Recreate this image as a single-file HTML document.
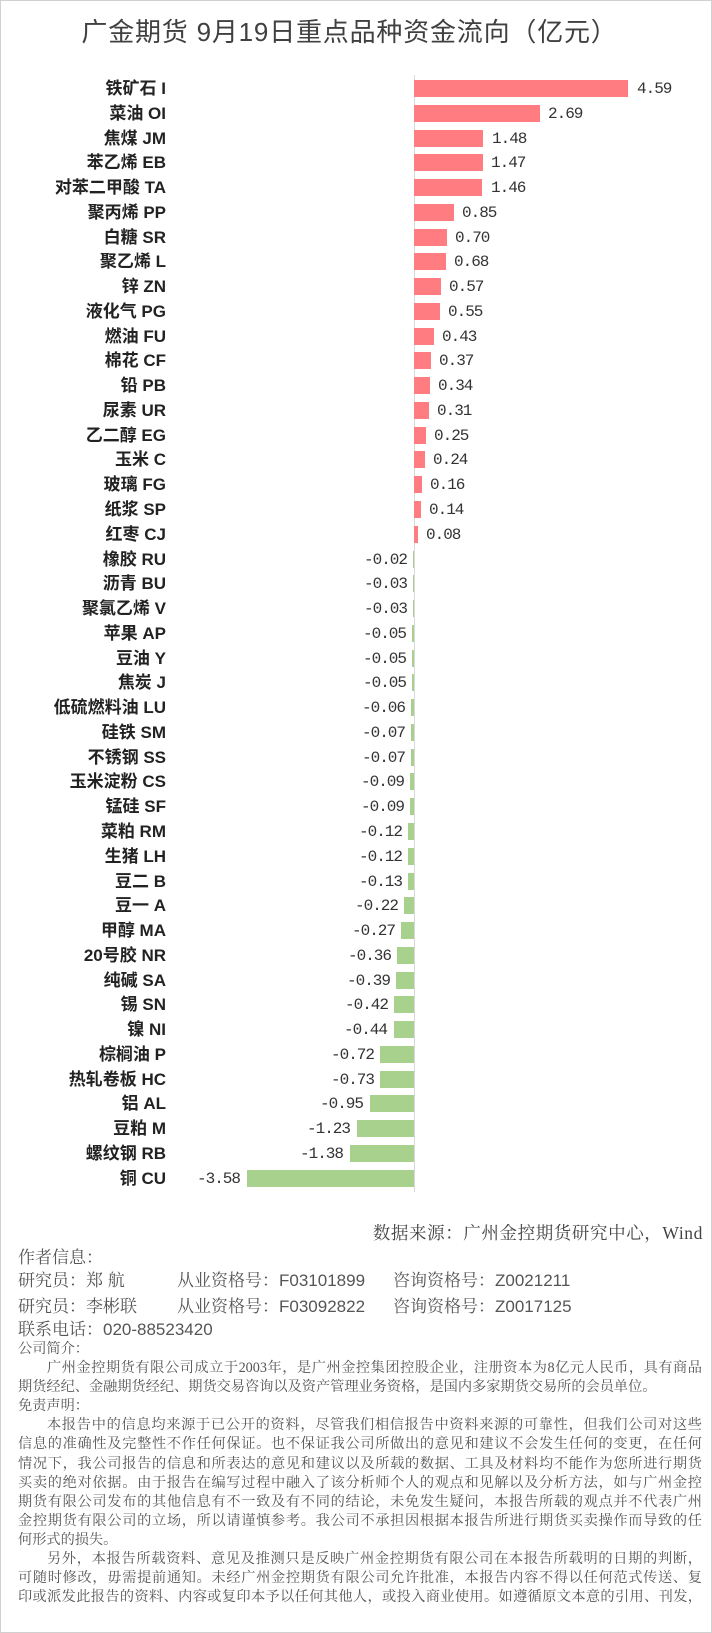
<!DOCTYPE html>
<html><head><meta charset="utf-8"><style>
*{margin:0;padding:0}
body{width:712px;height:1633px;background:#fff;position:relative;overflow:hidden;font-family:"Liberation Sans","Noto Sans CJK SC",sans-serif;color:#333}
.frame{position:absolute;left:0;top:0;width:710px;height:1631px;border:1px solid #d0d0d0}
.title{position:absolute;left:77px;width:545px;top:12px;text-align:center;font-size:26px;color:#404040;white-space:nowrap;letter-spacing:0.8px}
.axis{position:absolute;left:414px;top:75px;width:1px;height:1117px;background:#d9d9d9}
.rows{position:absolute;left:0;top:80px;width:712px}
.r{position:relative;height:24.77px;width:712px}
.l{position:absolute;right:546px;top:-3px;font-size:17px;font-weight:bold;color:#222;white-space:nowrap;line-height:24px}
.p,.n{position:absolute;top:0;height:17px}
.p{left:414px;background:#ff7c80}
.n{right:298px;background:#a9d18e}
.v{position:absolute;top:-3px;font-size:16px;line-height:24px;color:#333;white-space:nowrap;font-style:normal;font-family:"Liberation Mono","Noto Sans CJK SC",monospace;letter-spacing:-1px}
.src{position:absolute;right:9px;top:1220px;font-size:17.5px;color:#444;white-space:nowrap;font-family:"Liberation Serif","Noto Serif CJK SC",serif;letter-spacing:0.6px}
.info{position:absolute;font-size:17px;color:#555;font-family:"Liberation Sans","Noto Serif CJK SC",serif;white-space:pre}
.txt{position:absolute;left:18px;top:1340px;width:684px;font-size:14.2px;line-height:19.1px;color:#555;font-family:"Liberation Serif","Noto Serif CJK SC",serif}
.txt div{white-space:nowrap;height:19.1px}
.j{text-align:justify;text-align-last:justify;white-space:normal!important}
.ind{padding-left:29px}
</style></head><body>
<div class="frame"></div>
<div class="title">广金期货 9月19日重点品种资金流向（亿元）</div>
<div class="axis"></div>
<div class="rows">
<div class="r"><span class="l">铁矿石 I</span><b class="p" style="width:214.4px"></b><i class="v" style="left:637px">4.59</i></div>
<div class="r"><span class="l">菜油 OI</span><b class="p" style="width:125.6px"></b><i class="v" style="left:548px">2.69</i></div>
<div class="r"><span class="l">焦煤 JM</span><b class="p" style="width:69.1px"></b><i class="v" style="left:492px">1.48</i></div>
<div class="r"><span class="l">苯乙烯 EB</span><b class="p" style="width:68.6px"></b><i class="v" style="left:491px">1.47</i></div>
<div class="r"><span class="l">对苯二甲酸 TA</span><b class="p" style="width:68.2px"></b><i class="v" style="left:491px">1.46</i></div>
<div class="r"><span class="l">聚丙烯 PP</span><b class="p" style="width:39.7px"></b><i class="v" style="left:462px">0.85</i></div>
<div class="r"><span class="l">白糖 SR</span><b class="p" style="width:32.7px"></b><i class="v" style="left:455px">0.70</i></div>
<div class="r"><span class="l">聚乙烯 L</span><b class="p" style="width:31.8px"></b><i class="v" style="left:454px">0.68</i></div>
<div class="r"><span class="l">锌 ZN</span><b class="p" style="width:26.6px"></b><i class="v" style="left:449px">0.57</i></div>
<div class="r"><span class="l">液化气 PG</span><b class="p" style="width:25.7px"></b><i class="v" style="left:448px">0.55</i></div>
<div class="r"><span class="l">燃油 FU</span><b class="p" style="width:20.1px"></b><i class="v" style="left:442px">0.43</i></div>
<div class="r"><span class="l">棉花 CF</span><b class="p" style="width:17.3px"></b><i class="v" style="left:439px">0.37</i></div>
<div class="r"><span class="l">铅 PB</span><b class="p" style="width:15.9px"></b><i class="v" style="left:438px">0.34</i></div>
<div class="r"><span class="l">尿素 UR</span><b class="p" style="width:14.5px"></b><i class="v" style="left:437px">0.31</i></div>
<div class="r"><span class="l">乙二醇 EG</span><b class="p" style="width:11.7px"></b><i class="v" style="left:434px">0.25</i></div>
<div class="r"><span class="l">玉米 C</span><b class="p" style="width:11.2px"></b><i class="v" style="left:433px">0.24</i></div>
<div class="r"><span class="l">玻璃 FG</span><b class="p" style="width:7.5px"></b><i class="v" style="left:430px">0.16</i></div>
<div class="r"><span class="l">纸浆 SP</span><b class="p" style="width:6.5px"></b><i class="v" style="left:429px">0.14</i></div>
<div class="r"><span class="l">红枣 CJ</span><b class="p" style="width:3.7px"></b><i class="v" style="left:426px">0.08</i></div>
<div class="r"><span class="l">橡胶 RU</span><b class="n" style="width:0.9px"></b><i class="v" style="right:305px">-0.02</i></div>
<div class="r"><span class="l">沥青 BU</span><b class="n" style="width:1.4px"></b><i class="v" style="right:305px">-0.03</i></div>
<div class="r"><span class="l">聚氯乙烯 V</span><b class="n" style="width:1.4px"></b><i class="v" style="right:305px">-0.03</i></div>
<div class="r"><span class="l">苹果 AP</span><b class="n" style="width:2.3px"></b><i class="v" style="right:306px">-0.05</i></div>
<div class="r"><span class="l">豆油 Y</span><b class="n" style="width:2.3px"></b><i class="v" style="right:306px">-0.05</i></div>
<div class="r"><span class="l">焦炭 J</span><b class="n" style="width:2.3px"></b><i class="v" style="right:306px">-0.05</i></div>
<div class="r"><span class="l">低硫燃料油 LU</span><b class="n" style="width:2.8px"></b><i class="v" style="right:307px">-0.06</i></div>
<div class="r"><span class="l">硅铁 SM</span><b class="n" style="width:3.3px"></b><i class="v" style="right:307px">-0.07</i></div>
<div class="r"><span class="l">不锈钢 SS</span><b class="n" style="width:3.3px"></b><i class="v" style="right:307px">-0.07</i></div>
<div class="r"><span class="l">玉米淀粉 CS</span><b class="n" style="width:4.2px"></b><i class="v" style="right:308px">-0.09</i></div>
<div class="r"><span class="l">锰硅 SF</span><b class="n" style="width:4.2px"></b><i class="v" style="right:308px">-0.09</i></div>
<div class="r"><span class="l">菜粕 RM</span><b class="n" style="width:5.6px"></b><i class="v" style="right:310px">-0.12</i></div>
<div class="r"><span class="l">生猪 LH</span><b class="n" style="width:5.6px"></b><i class="v" style="right:310px">-0.12</i></div>
<div class="r"><span class="l">豆二 B</span><b class="n" style="width:6.1px"></b><i class="v" style="right:310px">-0.13</i></div>
<div class="r"><span class="l">豆一 A</span><b class="n" style="width:10.3px"></b><i class="v" style="right:314px">-0.22</i></div>
<div class="r"><span class="l">甲醇 MA</span><b class="n" style="width:12.6px"></b><i class="v" style="right:317px">-0.27</i></div>
<div class="r"><span class="l">20号胶 NR</span><b class="n" style="width:16.8px"></b><i class="v" style="right:321px">-0.36</i></div>
<div class="r"><span class="l">纯碱 SA</span><b class="n" style="width:18.2px"></b><i class="v" style="right:322px">-0.39</i></div>
<div class="r"><span class="l">锡 SN</span><b class="n" style="width:19.6px"></b><i class="v" style="right:324px">-0.42</i></div>
<div class="r"><span class="l">镍 NI</span><b class="n" style="width:20.5px"></b><i class="v" style="right:325px">-0.44</i></div>
<div class="r"><span class="l">棕榈油 P</span><b class="n" style="width:33.6px"></b><i class="v" style="right:338px">-0.72</i></div>
<div class="r"><span class="l">热轧卷板 HC</span><b class="n" style="width:34.1px"></b><i class="v" style="right:338px">-0.73</i></div>
<div class="r"><span class="l">铝 AL</span><b class="n" style="width:44.4px"></b><i class="v" style="right:349px">-0.95</i></div>
<div class="r"><span class="l">豆粕 M</span><b class="n" style="width:57.4px"></b><i class="v" style="right:362px">-1.23</i></div>
<div class="r"><span class="l">螺纹钢 RB</span><b class="n" style="width:64.4px"></b><i class="v" style="right:369px">-1.38</i></div>
<div class="r"><span class="l">铜 CU</span><b class="n" style="width:167.2px"></b><i class="v" style="right:472px">-3.58</i></div>
</div>
<div class="src">数据来源：广州金控期货研究中心，Wind</div>
<div class="info" style="left:18px;top:1243px">作者信息：</div>
<div class="info" style="left:18px;top:1266px">研究员：郑 航</div>
<div class="info" style="left:177px;top:1266px">从业资格号：F03101899</div>
<div class="info" style="left:393px;top:1266px">咨询资格号：Z0021211</div>
<div class="info" style="left:18px;top:1292px">研究员：李彬联</div>
<div class="info" style="left:177px;top:1292px">从业资格号：F03092822</div>
<div class="info" style="left:393px;top:1292px">咨询资格号：Z0017125</div>
<div class="info" style="left:18px;top:1315px">联系电话：020-88523420</div>
<div class="txt">
<div>公司简介：</div>
<div class="j ind">广州金控期货有限公司成立于2003年，是广州金控集团控股企业，注册资本为8亿元人民币，具有商品</div>
<div>期货经纪、金融期货经纪、期货交易咨询以及资产管理业务资格，是国内多家期货交易所的会员单位。</div>
<div>免责声明：</div>
<div class="j ind">本报告中的信息均来源于已公开的资料，尽管我们相信报告中资料来源的可靠性，但我们公司对这些</div>
<div class="j">信息的准确性及完整性不作任何保证。也不保证我公司所做出的意见和建议不会发生任何的变更，在任何</div>
<div class="j">情况下，我公司报告的信息和所表达的意见和建议以及所载的数据、工具及材料均不能作为您所进行期货</div>
<div class="j">买卖的绝对依据。由于报告在编写过程中融入了该分析师个人的观点和见解以及分析方法，如与广州金控</div>
<div class="j">期货有限公司发布的其他信息有不一致及有不同的结论，未免发生疑问，本报告所载的观点并不代表广州</div>
<div class="j">金控期货有限公司的立场，所以请谨慎参考。我公司不承担因根据本报告所进行期货买卖操作而导致的任</div>
<div>何形式的损失。</div>
<div class="j ind">另外，本报告所载资料、意见及推测只是反映广州金控期货有限公司在本报告所载明的日期的判断，</div>
<div class="j">可随时修改，毋需提前通知。未经广州金控期货有限公司允许批准，本报告内容不得以任何范式传送、复</div>
<div class="j">印或派发此报告的资料、内容或复印本予以任何其他人，或投入商业使用。如遵循原文本意的引用、刊发，</div>
</div>
</body></html>
